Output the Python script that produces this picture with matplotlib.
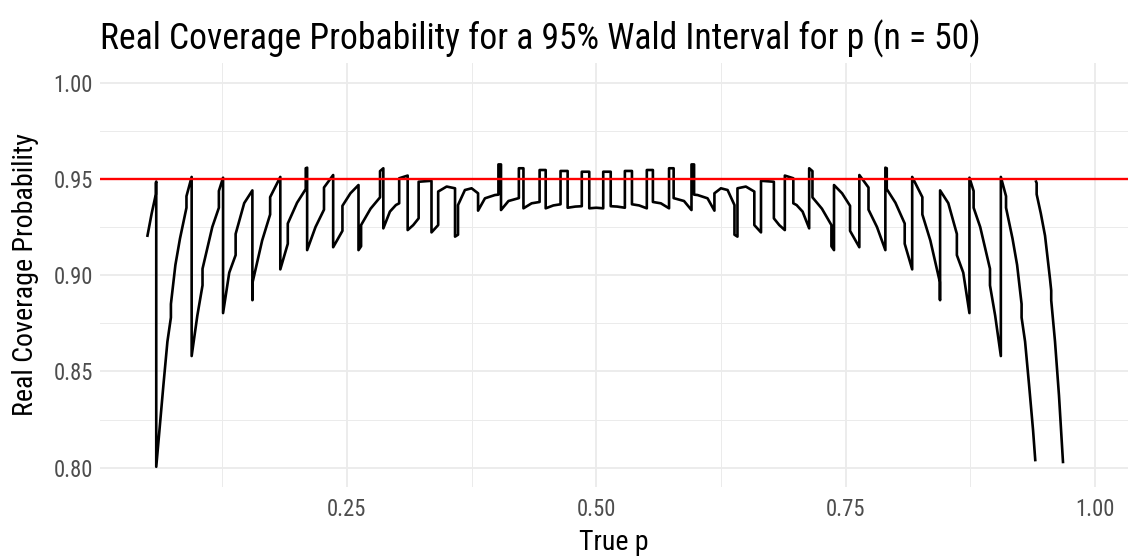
import numpy as np
import matplotlib
matplotlib.use("Agg")
import matplotlib.pyplot as plt
from matplotlib import font_manager
from matplotlib.ticker import MultipleLocator, FormatStrFormatter

# coverage of the 95% Wald interval, n = 50
# left half (p up to 0.5)
p_left = [0.0500, 0.0542, 0.0584, 0.0584, 0.0588, 0.0588, 0.0620, 0.0660, 0.0700, 0.0735,
          0.0735, 0.0780, 0.0826, 0.0891, 0.0891, 0.0943, 0.0943, 0.1000, 0.1052, 0.1052,
          0.1150, 0.1216, 0.1216, 0.1258, 0.1258, 0.1320, 0.1384, 0.1384, 0.1470, 0.1552,
          0.1552, 0.1555, 0.1555, 0.1650, 0.1730, 0.1730, 0.1832, 0.1832, 0.1907, 0.1907,
          0.2000, 0.2087, 0.2087, 0.2101, 0.2101, 0.2185, 0.2270, 0.2270, 0.2362, 0.2362,
          0.2455, 0.2455, 0.2535, 0.2616, 0.2616, 0.2642, 0.2642, 0.2737, 0.2832, 0.2832,
          0.2865, 0.2865, 0.2931, 0.2991, 0.3024, 0.3024, 0.3109, 0.3109, 0.3165, 0.3219,
          0.3219, 0.3348, 0.3348, 0.3415, 0.3415, 0.3500, 0.3584, 0.3584, 0.3614, 0.3614,
          0.3683, 0.3750, 0.3815, 0.3815, 0.3884, 0.3984, 0.4019, 0.4019, 0.4045, 0.4045,
          0.4120, 0.4224, 0.4224, 0.4270, 0.4270, 0.4352, 0.4432, 0.4432, 0.4493, 0.4493,
          0.4570, 0.4642, 0.4642, 0.4713, 0.4713, 0.4790, 0.4855, 0.4855, 0.4930, 0.4930,
          0.5000]
cov_left = [0.9205, 0.9320, 0.9420, 0.9478, 0.9486, 0.8005, 0.8195, 0.8430, 0.8655, 0.8780,
            0.8850, 0.9053, 0.9190, 0.9350, 0.9410, 0.9510, 0.8580, 0.8790, 0.8947, 0.9033,
            0.9250, 0.9350, 0.9437, 0.9506, 0.8803, 0.9013, 0.9104, 0.9214, 0.9374, 0.9440,
            0.8870, 0.8875, 0.8965, 0.9180, 0.9315, 0.9405, 0.9510, 0.9030, 0.9163, 0.9268,
            0.9376, 0.9447, 0.9555, 0.9558, 0.9130, 0.9250, 0.9340, 0.9455, 0.9520, 0.9145,
            0.9230, 0.9360, 0.9425, 0.9468, 0.9130, 0.9150, 0.9260, 0.9345, 0.9404, 0.9540,
            0.9555, 0.9243, 0.9330, 0.9364, 0.9373, 0.9503, 0.9517, 0.9234, 0.9260, 0.9295,
            0.9485, 0.9490, 0.9222, 0.9260, 0.9434, 0.9460, 0.9451, 0.9200, 0.9210, 0.9364,
            0.9442, 0.9451, 0.9425, 0.9335, 0.9399, 0.9416, 0.9418, 0.9575, 0.9575, 0.9338,
            0.9385, 0.9400, 0.9555, 0.9555, 0.9347, 0.9373, 0.9380, 0.9546, 0.9546, 0.9347,
            0.9362, 0.9368, 0.9541, 0.9541, 0.9350, 0.9356, 0.9358, 0.9537, 0.9537, 0.9347,
            0.9350]

# right half, up to where the curve leaves the plotted range
p_right = [0.5070, 0.5070, 0.5145, 0.5145, 0.5210, 0.5287, 0.5287, 0.5358, 0.5358, 0.5430,
           0.5507, 0.5507, 0.5568, 0.5568, 0.5648, 0.5730, 0.5730, 0.5776, 0.5776, 0.5880,
           0.5955, 0.5955, 0.5981, 0.5981, 0.6016, 0.6116, 0.6185, 0.6185, 0.6250, 0.6317,
           0.6386, 0.6386, 0.6416, 0.6416, 0.6500, 0.6585, 0.6585, 0.6652, 0.6652, 0.6781,
           0.6781, 0.6835, 0.6891, 0.6891, 0.6976, 0.6976, 0.7009, 0.7069, 0.7135, 0.7135,
           0.7168, 0.7168, 0.7263, 0.7358, 0.7358, 0.7384, 0.7384, 0.7465, 0.7545, 0.7545,
           0.7638, 0.7638, 0.7730, 0.7730, 0.7815, 0.7899, 0.7899, 0.7913, 0.7913, 0.8000,
           0.8093, 0.8093, 0.8168, 0.8168, 0.8270, 0.8270, 0.8350, 0.8445, 0.8445, 0.8448,
           0.8448, 0.8530, 0.8616, 0.8616, 0.8680, 0.8742, 0.8742, 0.8784, 0.8784, 0.8850,
           0.8948, 0.8948, 0.9000, 0.9057, 0.9057, 0.9109, 0.9109, 0.9174, 0.9220, 0.9265,
           0.9265, 0.9300, 0.9340, 0.9380, 0.9402]
cov_right = [0.9347, 0.9537, 0.9537, 0.9358, 0.9356, 0.9350, 0.9541, 0.9541, 0.9368, 0.9362,
             0.9347, 0.9546, 0.9546, 0.9380, 0.9373, 0.9347, 0.9555, 0.9555, 0.9400, 0.9385,
             0.9338, 0.9575, 0.9575, 0.9418, 0.9416, 0.9399, 0.9335, 0.9425, 0.9451, 0.9442,
             0.9364, 0.9210, 0.9200, 0.9451, 0.9460, 0.9434, 0.9260, 0.9222, 0.9490, 0.9485,
             0.9295, 0.9260, 0.9234, 0.9517, 0.9503, 0.9373, 0.9364, 0.9330, 0.9243, 0.9555,
             0.9540, 0.9404, 0.9345, 0.9260, 0.9150, 0.9130, 0.9468, 0.9425, 0.9360, 0.9230,
             0.9145, 0.9520, 0.9455, 0.9340, 0.9250, 0.9130, 0.9558, 0.9555, 0.9447, 0.9376,
             0.9268, 0.9163, 0.9030, 0.9510, 0.9405, 0.9315, 0.9180, 0.8965, 0.8875, 0.8870,
             0.9440, 0.9374, 0.9214, 0.9104, 0.9013, 0.8803, 0.9506, 0.9437, 0.9350, 0.9250,
             0.9033, 0.8947, 0.8790, 0.8580, 0.9510, 0.9410, 0.9350, 0.9190, 0.9053, 0.8850,
             0.8780, 0.8655, 0.8430, 0.8195, 0.8040]

# last piece after the gap
p_tail = [0.9410, 0.9416, 0.9416, 0.9458, 0.9500, 0.9550, 0.9562, 0.9562, 0.9600, 0.9640, 0.9680]
cov_tail = [0.9486, 0.9478, 0.9420, 0.9320, 0.9205, 0.8980, 0.8920, 0.8870, 0.8656, 0.8375, 0.8030]

target = 0.95
x_ticks = [0.25, 0.50, 0.75, 1.00]
y_ticks = [0.80, 0.85, 0.90, 0.95, 1.00]


def first_font(names):
    for name in names:
        try:
            font_manager.findfont(font_manager.FontProperties(family=name),
                                  fallback_to_default=False)
            return name
        except ValueError:
            pass
    return "DejaVu Sans"


plt.rcParams["font.family"] = first_font(["Roboto Condensed", "Liberation Sans Narrow", "Roboto"])

W, H = 1128, 557
fig = plt.figure(figsize=(W / 100, H / 100), dpi=100)
ax = fig.add_axes([100 / W, 1 - 487 / H, 1 - 100 / W, (487 - 63.3) / H])

p_all = np.concatenate([p_left, p_right, [np.nan], p_tail])
cov_all = np.concatenate([cov_left, cov_right, [np.nan], cov_tail])
ax.plot(p_all, cov_all, color="black", lw=1.9)
ax.axhline(target, color="red", lw=1.7)

ax.set_xlim(0.0024, 1.0332)
ax.set_ylim(0.79, 1.01)
ax.set_xticks(x_ticks)
ax.set_yticks(y_ticks)
ax.xaxis.set_minor_locator(MultipleLocator(0.125))
ax.yaxis.set_minor_locator(MultipleLocator(0.025))
ax.xaxis.set_major_formatter(FormatStrFormatter("%.2f"))
ax.yaxis.set_major_formatter(FormatStrFormatter("%.2f"))
ax.grid(which="major", color="#EBEBEB", lw=1.3)
ax.grid(which="minor", color="#EBEBEB", lw=0.7)
ax.set_axisbelow(True)
for s in ax.spines.values():
    s.set_visible(False)
ax.tick_params(which="both", length=0)
ax.tick_params(axis="x", pad=8, labelcolor="#4D4D4D")
ax.tick_params(axis="y", pad=5, labelcolor="#4D4D4D")

title = fig.text(100 / W, 1 - 49 / H,
                 "Real Coverage Probability for a 95% Wald Interval for p (n = 50)",
                 ha="left", va="baseline", fontsize=22)
xlab = fig.text((100 + W) / 2 / W, 1 - 529 / H, "True p", ha="center", va="top", fontsize=18)
ylab = fig.text(26 / W, 1 - 275 / H, "Real Coverage Probability", rotation=90,
                ha="center", va="center", fontsize=18)

# size the text to the widths seen in the reference
fig.canvas.draw()


def fit(t, width, vertical=False):
    bb = t.get_window_extent()
    cur = bb.height if vertical else bb.width
    t.set_fontsize(t.get_fontsize() * width / cur)


fit(title, 880)
fit(xlab, 70)
fit(ylab, 283, vertical=True)
lab = ax.get_xticklabels()[0]
ax.tick_params(labelsize=lab.get_fontsize() * 39 / lab.get_window_extent().width)

fig.savefig("out.png", dpi=100)
